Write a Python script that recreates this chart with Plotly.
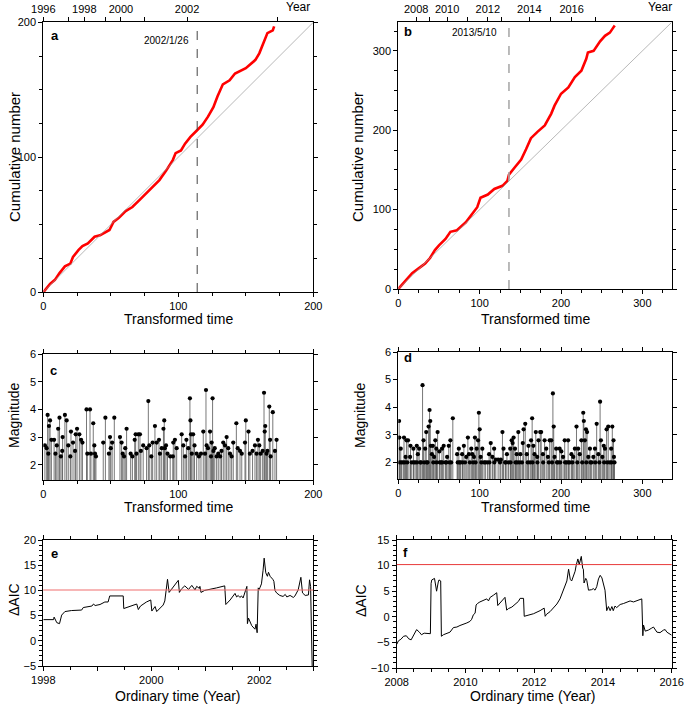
import plotly.graph_objects as go

FONT = "Liberation Sans, Arial, Helvetica, sans-serif"
OFF = 0
W, H = 685, 706

# ---------------- data ----------------
# panel a: cumulative number vs transformed time
a_time = [0, 1, 5, 8.6, 12, 16, 20, 22, 26, 29, 33, 38, 42, 49, 52, 56, 61, 66, 71, 76, 81, 86,
          91, 96, 98, 102, 105, 109, 113, 118, 122, 126, 129, 133, 138, 142, 150, 157, 160, 163,
          166, 170, 171]
a_count = [0, 1, 6, 9, 14, 19, 21, 26, 31, 34, 36, 41, 42, 46, 52, 55, 60, 63, 68, 73, 78, 83,
           90, 98, 103, 105, 110, 115, 119, 124, 130, 137, 145, 154, 157, 162, 166, 172, 177, 184,
           192, 194, 197]
a_year_pos = [0, 18.5, 30.4, 45.7, 57.5, 75.3, 106.5, 173.2]
a_year_txt = ["1996", "", "1998", "", "2000", "", "2002", ""]
a_change = 114
a_change_txt = "2002/1/26"
a_max = 200

# panel b
b_time = [0, 10, 17, 25, 33, 39, 45, 50, 58, 64, 72, 83, 91, 97, 101, 110, 118, 128, 134, 136,
          143, 151, 157, 163, 171, 180, 188, 192, 200, 209, 217, 225, 231, 233, 240, 248, 254,
          260, 264, 266]
b_count = [0, 12, 20, 26, 32, 39, 49, 55, 63, 72, 74, 84, 95, 103, 115, 119, 126, 130, 136, 144,
           153, 163, 176, 190, 198, 206, 221, 231, 246, 254, 267, 275, 290, 298, 300, 312, 319,
           323, 329, 332]
b_year_pos = [22, 38, 60, 85, 110, 127, 161, 187, 213, 242]
b_year_txt = ["2008", "", "2010", "", "2012", "", "2014", "", "2016", ""]
b_change = 136
b_change_txt = "2013/5/10"
b_max = 336

# panel c: magnitudes vs transformed time
c_time = [1.2, 2.5, 3.2, 3.7, 4.2, 5.0, 6.0, 8.0, 9.0, 10.0,
          11.0, 12.0, 13.0, 14.0, 14.3, 16.0, 17.3, 18.5, 20.0, 20.5,
          22.0, 23.5, 24.0, 25.0, 26.7, 28.0, 29.0, 32.0, 32.6, 34.6,
          35.3, 37.0, 37.8, 38.3, 39.0, 44.4, 46.0, 48.6, 49.4, 50.0,
          51.0, 52.6, 56.8, 58.0, 58.8, 59.8, 60.7, 61.7, 64.7, 66.0,
          67.7, 68.4, 69.0, 70.4, 71.6, 72.3, 74.0, 76.5, 77.8, 78.5,
          80.0, 81.0, 82.7, 84.0, 85.7, 86.4, 87.7, 89.0, 89.6, 90.0,
          90.9, 92.0, 94.0, 96.0, 96.3, 97.5, 98.8, 102.5, 103.7, 105.0,
          106.0, 107.4, 108.6, 109.0, 109.4, 110.0, 111.0, 112.0, 113.6, 115.3,
          116.8, 118.5, 119.8, 120.5, 121.0, 122.0, 123.5, 124.2, 124.7, 125.4,
          126.0, 127.0, 128.4, 129.6, 131.0, 132.0, 133.3, 134.6, 135.8, 137.0,
          138.3, 139.5, 140.7, 143.0, 144.0, 145.7, 147.0, 149.4, 150.0, 152.0,
          153.0, 155.0, 156.8, 158.0, 159.0, 160.0, 161.0, 162.5, 163.5, 164.0,
          164.4, 165.4, 166.0, 167.4, 168.0, 168.4, 170.0, 171.6, 172.8]
c_mag = [2.7, 2.6, 3.8, 2.4, 3.4, 3.6, 2.9, 2.9, 2.4, 2.7,
         3.3, 3.7, 2.3, 2.5, 3.0, 3.8, 3.6, 2.7, 2.3, 3.2,
         2.8, 2.5, 3.1, 3.3, 3.1, 2.9, 2.8, 4.0, 2.4, 4.0,
         2.4, 3.5, 2.7, 2.4, 2.3, 2.8, 3.7, 2.4, 3.0, 2.6,
         2.8, 3.7, 3.0, 2.8, 2.4, 2.3, 2.6, 3.3, 2.4, 2.3,
         2.9, 3.1, 2.4, 3.1, 3.1, 2.5, 2.7, 2.6, 4.3, 2.7,
         2.3, 2.8, 3.4, 2.8, 2.9, 2.4, 2.6, 3.3, 3.6, 2.6,
         2.7, 2.4, 2.3, 2.3, 2.8, 2.9, 2.6, 3.1, 2.7, 2.3,
         2.9, 2.6, 4.4, 3.6, 3.1, 2.4, 3.1, 2.7, 2.4, 2.3,
         2.4, 3.2, 2.4, 4.7, 2.7, 2.6, 3.2, 2.3, 2.8, 4.4,
         2.5, 2.6, 2.3, 2.4, 2.3, 2.5, 2.8, 2.7, 3.0, 2.6,
         2.4, 2.3, 2.8, 3.5, 2.6, 2.5, 2.4, 2.8, 3.6, 3.2,
         2.4, 2.5, 2.7, 2.4, 2.9, 2.7, 2.4, 2.5, 4.6, 3.2,
         3.4, 2.4, 2.5, 4.1, 2.9, 2.3, 3.9, 2.5, 2.9]

# panel d
d_time = [1, 1.3, 2, 3, 6, 7, 9, 10, 12, 14.5,
          15, 16.5, 18.6, 20.7, 22.7, 24, 25.6, 28, 29.8, 31,
          33, 34.3, 36, 37.2, 38.4, 39.3, 40, 41.3, 42.5, 44,
          45.5, 46.7, 48.3, 50.4, 52.5, 53.7, 55.8, 57.9, 60, 62,
          64, 67, 72.3, 74.4, 76.4, 78.5, 80.6, 83.5, 85.5, 86.8,
          89.7, 91, 93, 94.2, 96.3, 98, 99, 100, 101.2, 103.3,
          105.4, 109.5, 111.6, 113.6, 115.7, 117.8, 119.8, 122.7, 126, 128,
          129.3, 131.4, 133.5, 135.5, 137.6, 139.3, 140.5, 141.7, 143.4, 145.5,
          147.5, 148.8, 150, 153, 154, 156, 157.9, 160, 162, 163.2,
          164.5, 166, 167.4, 169, 170.7, 172.3, 174.4, 175.6, 177.7, 179.8,
          181.8, 183.9, 186, 188, 190, 191, 192, 194, 196.3, 198.3,
          200.4, 202.5, 204.5, 206.6, 208.7, 210.7, 212.8, 215, 217, 219,
          221, 223, 225, 227.3, 228, 229.3, 230.6, 232, 233.5, 235.5,
          237.6, 239.7, 241.7, 243.8, 245.9, 248, 249, 250.8, 252.5, 254,
          256, 258, 260, 261.6, 263, 264.5, 265, 265.7,
          4, 8, 11, 19, 23, 27, 32, 35, 43, 47,
          51, 54, 59, 63, 65, 73, 75, 79, 82, 88,
          92, 95, 102, 107, 112, 118, 125, 132, 138, 144,
          146, 152, 159, 165, 171, 178, 185, 189, 195, 199,
          205, 209, 214, 220, 226, 231, 236, 242, 247, 253,
          257, 262]
d_mag = [3.5, 2.9, 2.0, 2.5, 2.0, 2.9, 2.2, 2.8, 2.8, 2.2,
         2.6, 2.0, 2.5, 2.0, 2.6, 2.3, 2.5, 2.0, 4.8, 2.8,
         2.5, 3.1, 2.0, 3.3, 3.9, 3.5, 2.6, 2.3, 2.6, 2.2,
         2.8, 2.5, 3.1, 2.4, 2.0, 2.5, 2.6, 2.0, 2.2, 2.6,
         2.8, 3.6, 2.3, 2.5, 2.0, 2.3, 2.6, 2.2, 2.9, 2.3,
         2.5, 2.3, 2.2, 2.9, 2.5, 2.8, 3.8, 3.2, 2.2, 2.5,
         2.0, 2.0, 2.3, 2.7, 2.2, 2.5, 2.1, 2.1, 2.1, 3.1,
         2.5, 2.0, 2.3, 2.0, 2.5, 2.8, 2.7, 2.9, 2.5, 2.3,
         3.1, 2.0, 2.3, 2.7, 3.2, 3.4, 2.3, 2.6, 2.0, 2.8,
         3.6, 2.6, 2.3, 3.1, 2.2, 2.8, 3.1, 3.1, 2.3, 2.8,
         2.5, 2.2, 2.8, 2.8, 4.5, 3.3, 2.2, 2.5, 2.0, 2.5,
         2.4, 2.2, 2.8, 2.0, 2.8, 2.0, 2.3, 2.2, 2.5, 3.3,
         2.5, 2.3, 2.8, 3.8, 3.5, 2.8, 3.2, 3.1, 2.2, 2.5,
         2.0, 2.2, 2.5, 3.4, 2.3, 4.2, 2.8, 2.2, 2.6, 2.5,
         3.2, 3.3, 2.0, 2.5, 3.3, 2.8, 2.2, 2.0,
         2.0, 2.0, 2.0, 2.0, 2.0, 2.0, 2.0, 2.0, 2.0, 2.0,
         2.0, 2.0, 2.0, 2.0, 2.0, 2.0, 2.0, 2.0, 2.0, 2.0,
         2.0, 2.0, 2.0, 2.0, 2.0, 2.0, 2.0, 2.0, 2.0, 2.0,
         2.0, 2.0, 2.0, 2.0, 2.0, 2.0, 2.0, 2.0, 2.0, 2.0,
         2.0, 2.0, 2.0, 2.0, 2.0, 2.0, 2.0, 2.0, 2.0, 2.0,
         2.0, 2.0]
mag_floor = 1.4

# panel e: delta AIC vs ordinary time
e_year = [1998.00, 1998.19, 1998.20, 1998.25, 1998.30, 1998.34, 1998.40, 1998.52, 1998.71, 1998.74,
          1998.90, 1998.93, 1998.96, 1999.05, 1999.14, 1999.20, 1999.23, 1999.48, 1999.49, 1999.73,
          1999.76, 1999.80, 1999.91, 1999.99, 2000.01, 2000.04, 2000.07, 2000.10, 2000.22, 2000.25,
          2000.30, 2000.33, 2000.38, 2000.44, 2000.50, 2000.52, 2000.56, 2000.62, 2000.69, 2000.75,
          2000.81, 2000.84, 2000.89, 2000.90, 2000.92, 2000.99, 2001.09, 2001.21, 2001.36, 2001.38,
          2001.46, 2001.52, 2001.55, 2001.58, 2001.61, 2001.64, 2001.67, 2001.70, 2001.73, 2001.77,
          2001.78, 2001.80, 2001.86, 2001.92, 2001.94, 2001.96, 2001.98, 2002.00, 2002.01, 2002.04,
          2002.07, 2002.09, 2002.12, 2002.15, 2002.17, 2002.20, 2002.25, 2002.27, 2002.29, 2002.32,
          2002.38, 2002.44, 2002.48, 2002.51, 2002.57, 2002.63, 2002.66, 2002.69, 2002.72, 2002.77,
          2002.80, 2002.85, 2002.91, 2002.93, 2002.95, 2002.98]
e_aic = [4.2, 4.2, 4.7, 3.6, 3.4, 5.1, 5.8, 6.0, 6.1, 6.6,
         6.9, 7.3, 7.0, 7.2, 7.7, 7.7, 8.9, 8.9, 6.4, 7.3,
         6.2, 6.9, 7.7, 8.1, 5.9, 6.5, 6.8, 5.8, 7.1, 7.9,
         12.2, 9.6, 10.3, 11.2, 12.0, 9.6, 10.3, 10.9, 10.2, 11.0,
         10.1, 10.8, 10.4, 10.8, 9.6, 10.0, 10.2, 10.5, 10.9, 7.2,
         8.1, 8.9, 9.4, 8.7, 9.0, 8.6, 8.9, 8.5, 9.6, 10.8,
         3.4, 4.5, 3.0, 2.3, 3.3, 1.6, 10.5, 10.2, 10.5, 11.3,
         14.0, 16.4, 13.5, 12.8, 13.6, 12.8, 12.2, 11.8, 10.0, 9.5,
         9.0, 8.8, 9.2, 8.7, 9.0, 8.6, 8.9, 9.6, 10.1, 12.6,
         9.5, 9.0, 9.1, 12.1, 10.8, -5.5]
e_threshold = 10.1

# panel f
f_year = [2008.00, 2008.05, 2008.12, 2008.20, 2008.28, 2008.35, 2008.42, 2008.50, 2008.58, 2008.66,
          2008.72, 2008.80, 2008.90, 2008.98, 2009.00, 2009.02, 2009.10, 2009.13, 2009.16, 2009.21,
          2009.23, 2009.28, 2009.30, 2009.36, 2009.45, 2009.55, 2009.65, 2009.75, 2009.84, 2009.94,
          2010.04, 2010.13, 2010.18, 2010.23, 2010.28, 2010.31, 2010.35, 2010.42, 2010.52, 2010.62,
          2010.67, 2010.72, 2010.81, 2010.91, 2010.94, 2010.99, 2011.06, 2011.10, 2011.15, 2011.20,
          2011.25, 2011.35, 2011.44, 2011.54, 2011.59, 2011.69, 2011.71, 2011.78, 2011.98, 2012.17,
          2012.29, 2012.32, 2012.36, 2012.46, 2012.56, 2012.66, 2012.75, 2012.85, 2012.95, 2013.00,
          2013.05, 2013.09, 2013.14, 2013.19, 2013.22, 2013.27, 2013.31, 2013.35, 2013.37, 2013.41,
          2013.43, 2013.45, 2013.50, 2013.53, 2013.58, 2013.67, 2013.72, 2013.77, 2013.82, 2013.87,
          2013.92, 2013.97, 2014.01, 2014.06, 2014.11, 2014.16, 2014.21, 2014.26, 2014.30, 2014.35,
          2014.40, 2014.50, 2014.60, 2014.69, 2014.79, 2014.89, 2014.98, 2015.08, 2015.13, 2015.16,
          2015.18, 2015.23, 2015.32, 2015.42, 2015.47, 2015.57, 2015.66, 2015.76, 2015.81, 2015.86,
          2015.95, 2016.00]
f_aic = [-5.4, -4.7, -4.4, -3.8, -3.7, -4.3, -4.5, -3.5, -2.5, -3.0,
         -3.5, -3.2, -3.3, -3.3, 6.5, 7.2, 7.5, 6.2, 5.0, 6.8,
         7.2, 7.0, -3.8, -3.5, -3.2, -3.0, -2.1, -2.0, -1.7, -1.5,
         -1.2, -0.9, -0.5, 0.4, 0.7, 2.3, 2.6, 2.9, 3.2, 3.5,
         3.1, 3.8, 4.2, 4.7, 2.2, 2.6, 3.3, 3.5, 3.8, 1.3,
         1.6, 1.9, 2.4, 3.0, 3.6, 3.6, 0.1, 0.2, 0.6, 1.2,
         1.7, 0.1, 0.5, 1.0, 1.8, 2.5, 3.5, 5.2, 7.0, 9.3,
         7.3, 7.0, 8.0, 8.9, 10.0, 11.3, 10.2, 11.6, 11.8, 9.5,
         9.3, 6.6, 7.5, 7.1, 5.2, 5.3, 5.5, 5.2, 5.9, 7.4,
         8.1, 7.6, 6.5, 5.2, 1.2, 2.0, 1.2, 2.0, 1.2, 2.1,
         1.8, 2.4, 2.6, 2.8, 3.1, 2.9, 3.1, 3.3, 3.5, -3.7,
         -1.6, -2.8, -2.6, -2.2, -2.0, -3.0, -3.1, -2.6, -2.5, -3.0,
         -3.4, -3.6]
f_threshold = 10.2

assert len(a_time) == len(a_count)
assert len(b_time) == len(b_count)
assert len(c_time) == len(c_mag)
assert len(d_time) == len(d_mag)
assert len(e_year) == len(e_aic)
assert len(f_year) == len(f_aic)

# ---------------- helpers ----------------
def stems(ts, ms, base):
    xs, ys = [], []
    for t, m in zip(ts, ms):
        xs += [t, t, None]
        ys += [base, m, None]
    return xs, ys

def dx(p0, p1):
    return [(p0 - OFF) / W, (p1 - OFF) / W]

def dy(top, bottom):
    return [1 - (bottom - OFF) / H, 1 - (top - OFF) / H]

def P(xp, yp):
    return (xp - OFF) / W, 1 - (yp - OFF) / H

TF = dict(size=11, color="black", family=FONT)

def axis(domain, rng, anchor, mirror="ticks", **kw):
    d = dict(domain=domain, range=rng, anchor=anchor, showline=True, linecolor="black",
             linewidth=1, ticks="outside", ticklen=4, tickwidth=1, tickcolor="black",
             showgrid=False, zeroline=False, tickfont=TF, mirror=mirror, automargin=False)
    d.update(kw)
    return d

def minor(step):
    return dict(dtick=step, ticklen=3, ticks="outside", tickcolor="black", showgrid=False)

XA = dx(43.3, 313.3)
XB = dx(398.3, 671.7)
XF = dx(396.7, 671.7)

fig = go.Figure()

# panel a
fig.add_trace(go.Scatter(x=[0, a_max], y=[0, a_max], mode="lines", xaxis="x7", yaxis="y",
                         line=dict(color="#9a9a9a", width=0.7), hoverinfo="skip"))
fig.add_trace(go.Scatter(x=a_time, y=a_count, mode="lines", xaxis="x", yaxis="y",
                         line=dict(color="#ff0000", width=2.6)))
# panel b
fig.add_trace(go.Scatter(x=[0, b_max], y=[0, b_max], mode="lines", xaxis="x8", yaxis="y2",
                         line=dict(color="#9a9a9a", width=0.7), hoverinfo="skip"))
fig.add_trace(go.Scatter(x=b_time, y=b_count, mode="lines", xaxis="x2", yaxis="y2",
                         line=dict(color="#ff0000", width=2.6)))
# panel c
cx, cy = stems(c_time, c_mag, mag_floor)
fig.add_trace(go.Scatter(x=cx, y=cy, mode="lines", xaxis="x3", yaxis="y3",
                         line=dict(color="#555555", width=0.8), hoverinfo="skip"))
fig.add_trace(go.Scatter(x=c_time, y=c_mag, mode="markers", xaxis="x3", yaxis="y3",
                         marker=dict(color="black", size=4.2)))
# panel d
ddx, ddy = stems(d_time, d_mag, mag_floor)
fig.add_trace(go.Scatter(x=ddx, y=ddy, mode="lines", xaxis="x4", yaxis="y4",
                         line=dict(color="#555555", width=0.8), hoverinfo="skip"))
fig.add_trace(go.Scatter(x=d_time, y=d_mag, mode="markers", xaxis="x4", yaxis="y4",
                         marker=dict(color="black", size=4.2)))
# panel e
fig.add_trace(go.Scatter(x=e_year, y=e_aic, mode="lines", xaxis="x5", yaxis="y5",
                         line=dict(color="black", width=1)))
# panel f
fig.add_trace(go.Scatter(x=f_year, y=f_aic, mode="lines", xaxis="x6", yaxis="y6",
                         line=dict(color="black", width=1)))

shapes = [
    dict(type="line", xref="x", yref="y domain", x0=a_change, x1=a_change, y0=0, y1=1,
         line=dict(color="#444444", width=1, dash="dash")),
    dict(type="line", xref="x2", yref="y2 domain", x0=b_change, x1=b_change, y0=0, y1=1,
         line=dict(color="#aaaaaa", width=1.6, dash="dash")),
    dict(type="line", xref="x5 domain", yref="y5", x0=0, x1=1, y0=e_threshold, y1=e_threshold,
         line=dict(color="rgba(240,110,110,0.5)", width=2)),
    dict(type="line", xref="x6 domain", yref="y6", x0=0, x1=1, y0=f_threshold, y1=f_threshold,
         line=dict(color="#e83a3a", width=1)),
]

def ann(text, x, y, size=14, angle=0, bold=False, xa="center", ya="middle", xref="paper", yref="paper"):
    t = "<b>%s</b>" % text if bold else text
    return dict(text=t, x=x, y=y, xref=xref, yref=yref, showarrow=False, textangle=angle,
                xanchor=xa, yanchor=ya, font=dict(size=size, color="black", family=FONT))

anns = []
for (txt, xp, yp, ang, sz) in [
    ("Cumulative number", 14, 157, -90, 15), ("Cumulative number", 357, 157, -90, 15),
    ("Transformed time", 178, 319, 0, 14), ("Transformed time", 535, 319, 0, 14),
    ("Magnitude", 14, 415, -90, 14), ("Magnitude", 360, 415, -90, 14),
    ("Transformed time", 178, 507, 0, 14), ("Transformed time", 535, 507, 0, 14),
    ("ΔAIC", 14, 600, -90, 14), ("ΔAIC", 361, 600, -90, 14),
    ("Ordinary time (Year)", 178, 696, 0, 14), ("Ordinary time (Year)", 533, 696, 0, 14),
    ("Year", 298, 7, 0, 12), ("Year", 660, 7, 0, 12),
]:
    x, y = P(xp, yp)
    anns.append(ann(txt, x, y, size=sz, angle=ang))

for (txt, xp, yp) in [("a", 55, 35), ("b", 408, 31), ("c", 53, 370), ("d", 408, 357),
                      ("e", 54, 553), ("f", 405, 552)]:
    x, y = P(xp, yp)
    anns.append(ann(txt, x, y, size=13, bold=True, xa="center"))

anns.append(ann(a_change_txt, a_change - 4.5, 0.933, size=10, xa="right", xref="x", yref="y domain"))
anns.append(ann(b_change_txt, b_change - 12, 0.963, size=10, xa="right", xref="x2", yref="y2 domain"))

top_axis = dict(showline=False, ticks="outside", ticklen=4, tickwidth=1, tickcolor="black",
                showgrid=False, zeroline=False, tickfont=TF, side="top", tickmode="array",
                automargin=False)

fig.update_layout(
    width=W, height=H, autosize=False, showlegend=False,
    margin=dict(l=0, r=0, t=0, b=0, pad=0, autoexpand=False),
    paper_bgcolor="white", plot_bgcolor="white",
    font=dict(family=FONT, color="black"),
    # a
    xaxis=axis(XA, [0, a_max], "y", mirror=True, tickvals=[0, 100, 200], minor=minor(25)),
    yaxis=axis(dy(22.3, 292), [0, a_max], "x", tickvals=[0, 100, 200], minor=minor(25)),
    xaxis7=dict(top_axis, overlaying="x", anchor="y", range=[0, a_max],
                tickvals=a_year_pos, ticktext=a_year_txt),
    # b
    xaxis2=axis(XB, [0, b_max], "y2", mirror=True, tickvals=[0, 100, 200, 300], minor=minor(25)),
    yaxis2=axis(dy(22.3, 289), [0, b_max], "x2", tickvals=[0, 100, 200, 300], minor=minor(25)),
    xaxis8=dict(top_axis, overlaying="x2", anchor="y2", range=[0, b_max],
                tickvals=b_year_pos, ticktext=b_year_txt),
    # c
    xaxis3=axis(XA, [0, 200], "y3", tickvals=[0, 100, 200], minor=minor(25)),
    yaxis3=axis(dy(354, 480), [1.45, 6], "x3", tickvals=[2, 3, 4, 5, 6]),
    # d
    xaxis4=axis(XB, [0, b_max], "y4", tickvals=[0, 100, 200, 300], minor=minor(25)),
    yaxis4=axis(dy(352, 479), [1.4, 6], "x4", tickvals=[2, 3, 4, 5, 6]),
    # e
    xaxis5=axis(XA, [1998, 2003], "y5", tickvals=[1998, 1999, 2000, 2001, 2002, 2003],
                ticktext=["1998", "", "2000", "", "2002", ""], minor=minor(0.5)),
    yaxis5=axis(dy(540, 666), [-5, 20], "x5", tickvals=[-5, 0, 5, 10, 15, 20], minor=minor(1)),
    # f
    xaxis6=axis(XF, [2008, 2016], "y6", tickvals=[2008, 2010, 2012, 2014, 2016], minor=minor(0.5)),
    yaxis6=axis(dy(540, 668), [-10, 15], "x6", tickvals=[-10, -5, 0, 5, 10, 15], minor=minor(1)),
    shapes=shapes,
    annotations=anns,
)

fig.write_html("out.html", config={"displayModeBar": False},
               post_script="document.body.style.margin='0px';")
